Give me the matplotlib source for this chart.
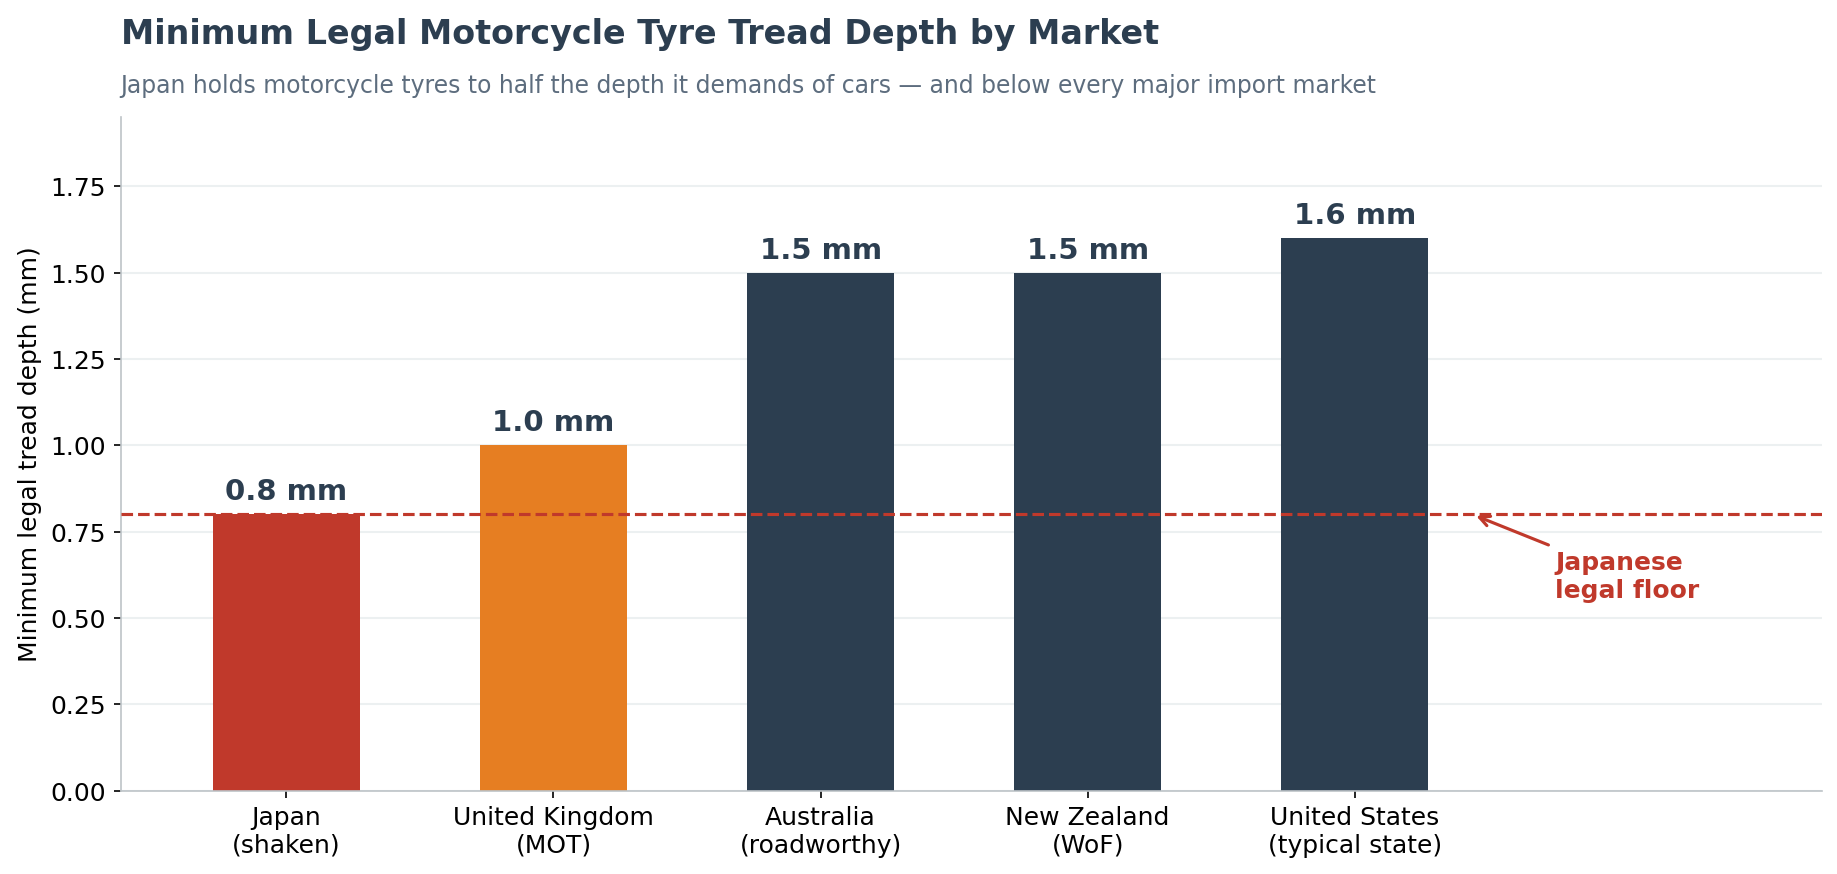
import numpy as np
import matplotlib
matplotlib.use("Agg")
import matplotlib.pyplot as plt

markets = ["Japan\n(shaken)", "United Kingdom\n(MOT)", "Australia\n(roadworthy)",
           "New Zealand\n(WoF)", "United States\n(typical state)"]
depths = [0.8, 1.0, 1.5, 1.5, 1.6]
bar_colors = ["#c0392b", "#e67e22", "#2c3e50", "#2c3e50", "#2c3e50"]
japan_floor = 0.8

fig = plt.figure(figsize=(12.25, 5.83), dpi=150)
ax = fig.add_axes([0.0657, 0.0953, 0.926, 0.770])

x = np.arange(len(markets))
ax.bar(x, depths, width=0.55, color=bar_colors, zorder=2)
ax.axhline(japan_floor, color="#c0392b", linestyle="--", linewidth=1.5, zorder=3)

for xi, d in zip(x, depths):
    ax.text(xi, d + 0.025, f"{d:.1f} mm", ha="center", va="bottom",
            fontsize=14, fontweight="bold", color="#2c3e50")

ax.annotate("Japanese\nlegal floor", xy=(4.44, japan_floor), xytext=(4.75, 0.62),
            ha="left", va="center", fontsize=12, fontweight="bold", color="#c0392b",
            arrowprops=dict(arrowstyle="->", color="#c0392b", lw=1.5))

ax.set_xticks(x)
ax.set_xticklabels(markets, fontsize=12)
ax.set_xlim(-0.62, 5.75)
ax.set_ylim(0, 1.95)
ax.set_yticks(np.arange(0, 1.76, 0.25))
ax.tick_params(axis="y", labelsize=12)
ax.set_ylabel("Minimum legal tread depth (mm)", fontsize=12)
ax.yaxis.grid(True, color="#ecf0f1", linewidth=1, zorder=0)
ax.set_axisbelow(True)
for s in ["top", "right"]:
    ax.spines[s].set_visible(False)
for s in ["left", "bottom"]:
    ax.spines[s].set_color("#bdc3c7")

fig.text(0.0657, 0.96, "Minimum Legal Motorcycle Tyre Tread Depth by Market",
         ha="left", va="center", fontsize=16, fontweight="bold", color="#2c3e50")
fig.text(0.0657, 0.902, "Japan holds motorcycle tyres to half the depth it demands of cars \u2014 and below every major import market",
         ha="left", va="center", fontsize=11.3, color="#5d6d7e")

fig.savefig("out.png", dpi=150)
